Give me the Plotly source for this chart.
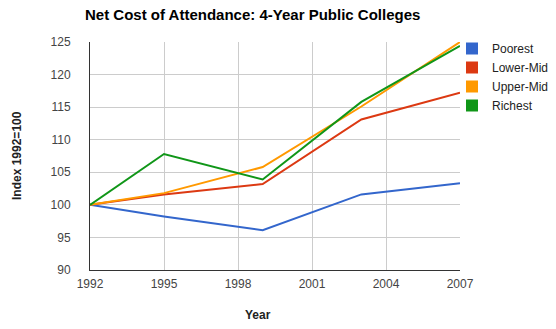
import plotly.graph_objects as go

years = [1992, 1995, 1999, 2003, 2007]
poorest = [100, 98.2, 96.1, 101.6, 103.3]
lower_mid = [100, 101.6, 103.2, 113.1, 117.2]
upper_mid = [100, 101.8, 105.8, 115.1, 125.0]
richest = [100, 107.8, 103.9, 115.8, 124.4]

series = [
    ("Poorest", poorest, "#3366cc"),
    ("Lower-Mid", lower_mid, "#dc3912"),
    ("Upper-Mid", upper_mid, "#ff9900"),
    ("Richest", richest, "#109618"),
]

fig = go.Figure()
for name, vals, color in series:
    fig.add_trace(go.Scatter(x=years, y=vals, mode="lines", name=name,
                             line=dict(color=color, width=2), showlegend=False))
for name, vals, color in series:
    fig.add_trace(go.Scatter(x=[None], y=[None], mode="markers", name=name,
                             marker=dict(symbol="square", size=12, color=color)))

fig.update_layout(
    width=556, height=329,
    margin=dict(l=90, r=96, t=42, b=59, autoexpand=False),
    paper_bgcolor="white", plot_bgcolor="white",
    font=dict(family="Arial, Liberation Sans, sans-serif", size=12, color="#444"),
    showlegend=True,
    legend=dict(xref="container", yref="container", x=452 / 556, y=1 - 34 / 329,
                xanchor="left", yanchor="top",
                font=dict(size=12, color="#222"), itemwidth=30,
                tracegroupgap=0, bgcolor="rgba(0,0,0,0)"),
    xaxis=dict(range=[1992, 2007], tickmode="array",
               tickvals=[1992, 1995, 1998, 2001, 2004, 2007],
               showgrid=True, gridcolor="#cccccc", gridwidth=1,
               showline=True, linecolor="#333", linewidth=1,
               zeroline=False, ticks="", ticklen=0, ticklabelstandoff=3,
               tickfont=dict(size=12, color="#444")),
    yaxis=dict(range=[90, 125], dtick=5, tick0=90,
               showgrid=True, gridcolor="#cccccc", gridwidth=1,
               showline=True, linecolor="#333", linewidth=1,
               zeroline=False, ticks="", ticklen=0, ticklabelstandoff=16,
               tickfont=dict(size=12, color="#444")),
    annotations=[
        dict(text="<b>Net Cost of Attendance: 4-Year Public Colleges</b>",
             xref="paper", yref="paper", x=(252 - 90) / 370, y=(329 - 15 - 59) / 228,
             xanchor="center", yanchor="middle", showarrow=False,
             font=dict(size=15, color="#000")),
        dict(text="<b>Year</b>", xref="paper", yref="paper",
             x=(258 - 90) / 370, y=-(315 - 270) / 228, xanchor="center", yanchor="middle",
             showarrow=False, font=dict(size=12, color="#222")),
        dict(text="<b>Index 1992=100</b>", xref="paper", yref="paper",
             x=-(90 - 17) / 370, y=0.5, xanchor="center", yanchor="middle",
             textangle=-90, showarrow=False, font=dict(size=12, color="#222")),
    ],
)

fig.write_html("out.html")
